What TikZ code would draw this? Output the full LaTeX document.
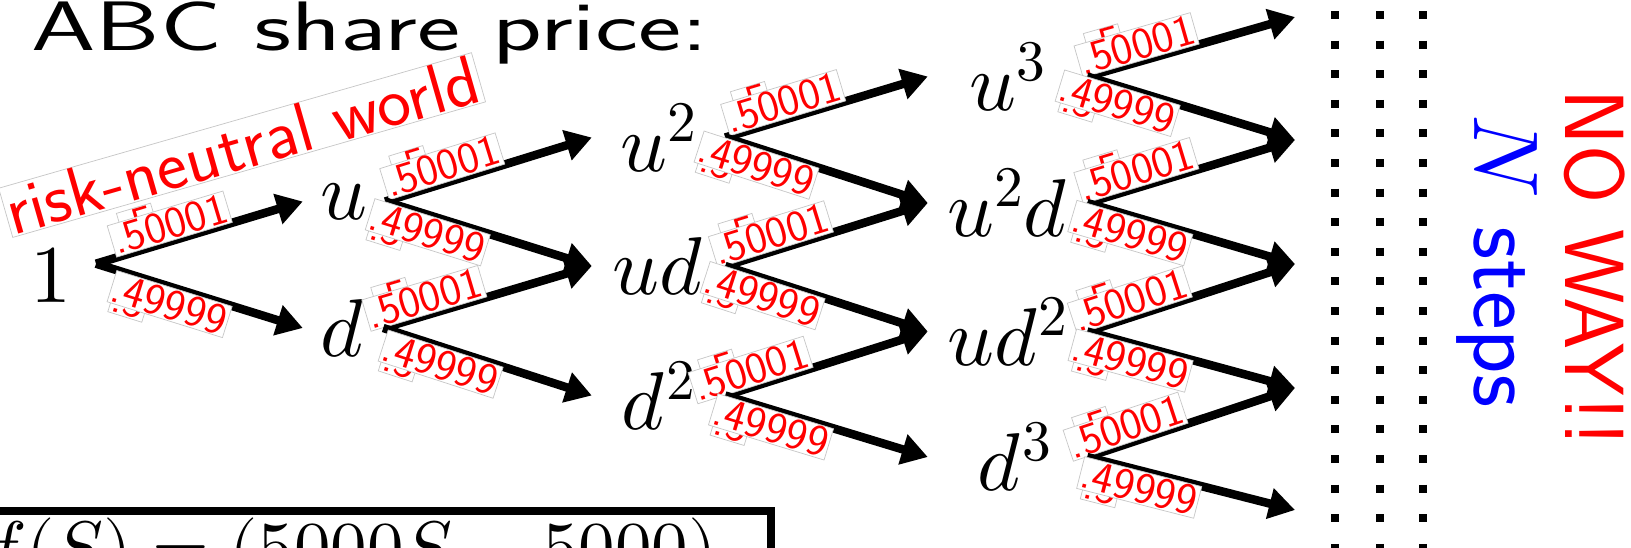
\documentclass[tikz,border=0pt]{standalone}
\usepackage{fontspec}
\usepackage{unicode-math}
\setmathfont{Latin Modern Math}
\usetikzlibrary{arrows.meta}
\begin{document}
\begin{tikzpicture}[x=1pt,y=-1pt,
  tree/.style={font=\fontsize{82}{90}\selectfont, inner sep=0pt},
  br/.style={line width=8.5pt, -{Triangle[length=26pt,width=30pt]}},
  prob/.style={font=\sffamily\fontsize{44}{48}\selectfont, text=red, fill=white,
    draw=gray!45, line width=0.7pt, inner sep=1.2pt, sloped, xscale=1.03},
  dotcol/.style={line width=8pt, dash pattern=on 8pt off 21.6pt}
]
\fill[white] (0,0) rectangle (1631,547);
\clip (0,0) rectangle (1631,547);
\useasboundingbox (0,0) rectangle (1631,547);

% risk-neutral label
\node[rotate=16, anchor=base west, inner sep=1pt, text=red, fill=white,
      draw=gray!45, line width=0.7pt, xscale=1.03,
      font=\sffamily\fontsize{70}{74}\selectfont] (rnw) at (12,236) {risk-neutral world};

% title
\node[anchor=base west, inner sep=0pt, xscale=1.47,
      font=\sffamily\fontsize{70}{74}\selectfont] (title) at (31,50) {ABC share price:};

% tree nodes
\node[tree, anchor=base east, inner xsep=24pt] (n0) at (96,302) {$1$};
\node[tree, minimum width=82pt] (n1u) at (344,201.5) {$u$};
\node[tree, minimum width=80pt] (n1d) at (343,328) {$d$};
\node[tree, minimum width=133pt] (n2a) at (658.5,137.5) {$u^2$};
\node[tree, minimum width=133pt] (n2b) at (658.5,266) {$ud$};
\node[tree, minimum width=133pt] (n2c) at (658.5,395.5) {$d^2$};
\node[tree, minimum width=159pt] (n3a) at (1007.5,76.5) {$u^3$};
\node[tree, minimum width=159pt] (n3b) at (1007.5,203) {$u^2d$};
\node[tree, minimum width=159pt] (n3c) at (1007.5,331.5) {$ud^2$};
\node[tree, minimum width=159pt] (n3d) at (1007.5,457) {$\,d^3$};
\coordinate (t0) at (1295,17);
\coordinate (t1) at (1295,140);
\coordinate (t2) at (1295,264);
\coordinate (t3) at (1295,388);
\coordinate (t4) at (1295,510);
\coordinate (s0) at ([yshift=11pt]n0.east);

% edges, each with a partly hidden ".5" and the real label
\draw[br] (s0) -- node[prob, above=10pt, pos=.24] {.5} node[prob, above, pos=.38] {.50001} (n1u.west);
\draw[br] (s0) -- node[prob, below=10pt, pos=.20] {.5} node[prob, below, pos=.38] {.49999} (n1d.west);

\draw[br] (n1u.east) -- node[prob, above=10pt, pos=.16] {.5} node[prob, above, pos=.30] {.50001} (n2a.west);
\draw[br] (n1u.east) -- node[prob, below=10pt, pos=.05] {.5} node[prob, below, pos=.23] {.49999} (n2b.west);
\draw[br] (n1d.east) -- node[prob, above=10pt, pos=.08] {.5} node[prob, above, pos=.22] {.50001} (n2b.west);
\draw[br] (n1d.east) -- node[prob, below=10pt, pos=.12] {.5} node[prob, below, pos=.30] {.49999} (n2c.west);

\draw[br] (n2a.east) -- node[prob, above=10pt, pos=.17] {.5} node[prob, above, pos=.31] {.50001} (n3a.west);
\draw[br] (n2a.east) -- node[prob, below=10pt, pos=.00] {.5} node[prob, below, pos=.18] {.49999} (n3b.west);
\draw[br] (n2b.east) -- node[prob, above=10pt, pos=.11] {.5} node[prob, above, pos=.25] {.50001} (n3b.west);
\draw[br] (n2b.east) -- node[prob, below=10pt, pos=.03] {.5} node[prob, below, pos=.21] {.49999} (n3c.west);
\draw[br] (n2c.east) -- node[prob, above=10pt, pos=.01] {.5} node[prob, above, pos=.15] {.50001} (n3c.west);
\draw[br] (n2c.east) -- node[prob, below=10pt, pos=.07] {.5} node[prob, below, pos=.25] {.49999} (n3d.west);

\draw[br] (n3a.east) -- node[prob, above=10pt, pos=.12] {.5} node[prob, above, pos=.26] {.50001} (t0);
\draw[br] (n3a.east) -- node[prob, below=10pt, pos=.00] {.5} node[prob, below, pos=.17] {.49999} (t1);
\draw[br] (n3b.east) -- node[prob, above=10pt, pos=.12] {.5} node[prob, above, pos=.26] {.50001} (t1);
\draw[br] (n3b.east) -- node[prob, below=10pt, pos=.06] {.5} node[prob, below, pos=.23] {.49999} (t2);
\draw[br] (n3c.east) -- node[prob, above=10pt, pos=.09] {.5} node[prob, above, pos=.23] {.50001} (t2);
\draw[br] (n3c.east) -- node[prob, below=10pt, pos=.06] {.5} node[prob, below, pos=.23] {.49999} (t3);
\draw[br] (n3d.east) -- node[prob, above=10pt, pos=.07] {.5} node[prob, above, pos=.21] {.50001} (t3);
\draw[br] (n3d.east) -- node[prob, below=10pt, pos=.10] {.5} node[prob, below, pos=.27] {.49999} (t4);

% dotted columns
\draw[dotcol] (1335,11) -- (1335,560);
\draw[dotcol] (1380,11) -- (1380,560);
\draw[dotcol] (1423,11) -- (1423,560);

% right texts
\node[rotate=-90, text=blue, fill=white, inner sep=2pt,
      font=\sffamily\fontsize{92}{96}\selectfont] (nsteps) at (1497,261) {$N$ steps};
\node[rotate=-90, text=red, inner sep=0pt,
      font=\sffamily\fontsize{84}{90}\selectfont] (noway) at (1595,268) {NO WAY!!};

% payoff box
\node[draw, line width=8pt, anchor=north east, inner xsep=14pt, inner ysep=7pt,
      font=\fontsize{73}{80}\selectfont] (payoff) at (775,507) {$f(S) = (5000S - 5000)_+$};
\end{tikzpicture}
\end{document}
